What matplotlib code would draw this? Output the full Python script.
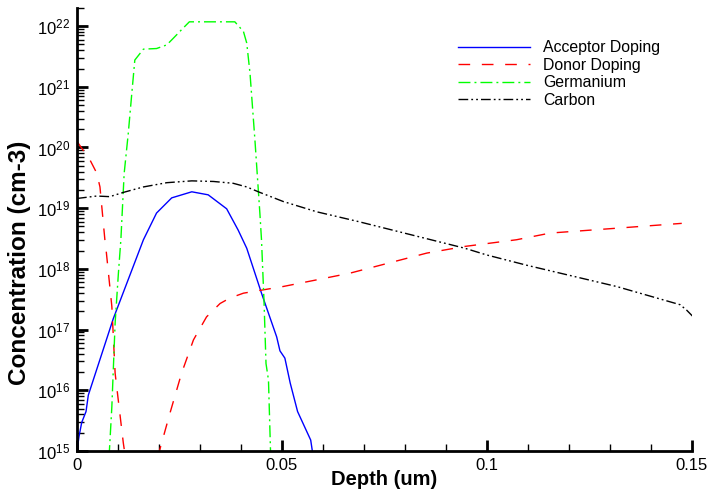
import matplotlib
matplotlib.use("Agg")
import matplotlib.pyplot as plt
import numpy as np
from matplotlib.ticker import FixedLocator, MultipleLocator, NullFormatter, LogFormatterSciNotation

plt.rcParams['font.family'] = ['Liberation Sans', 'DejaVu Sans']

acc_x = [0.0, 0.00049, 0.00115, 0.0022, 0.00276, 0.00885, 0.0162, 0.0194, 0.0231, 0.028, 0.032,
         0.0365, 0.0393, 0.0414, 0.0450, 0.0487, 0.0495, 0.0507, 0.052, 0.0538, 0.0570, 0.0574]
acc_log = [15.0, 15.24, 15.47, 15.65, 15.92, 17.18, 18.48, 18.92, 19.17, 19.27, 19.22,
           18.99, 18.64, 18.34, 17.60, 16.88, 16.65, 16.53, 16.12, 15.65, 15.18, 15.0]

don1_x = [0.0, 0.0032, 0.0048, 0.0056, 0.0068, 0.0071, 0.0085, 0.0093, 0.0113, 0.0118]
don1_log = [20.1, 19.79, 19.58, 19.35, 18.48, 18.31, 17.38, 16.28, 15.13, 14.9]
don2_x = [0.0195, 0.0201, 0.0227, 0.0255, 0.0284, 0.0316, 0.0349, 0.0373, 0.0406, 0.0503, 0.0585,
          0.0666, 0.0853, 0.0946, 0.1072, 0.1154, 0.1316, 0.1475]
don2_log = [14.9, 15.0, 15.63, 16.28, 16.83, 17.21, 17.43, 17.52, 17.60, 17.71, 17.82,
            17.93, 18.26, 18.37, 18.48, 18.59, 18.67, 18.75]

ge_x = [0.0078, 0.0079, 0.0085, 0.0093, 0.0101, 0.0107, 0.0115, 0.0125, 0.0133, 0.0141, 0.0162, 0.0194,
        0.0219, 0.0235, 0.0255, 0.0274, 0.0385, 0.0406, 0.0414, 0.0422, 0.0434, 0.0446, 0.0450,
        0.0456, 0.0461, 0.0467, 0.0472, 0.0473]
ge_log = [14.9, 15.0, 15.73, 17.11, 17.93, 18.48, 19.57, 20.23, 20.84, 21.44, 21.62, 21.63,
          21.69, 21.80, 21.94, 22.07, 22.07, 21.91, 21.72, 21.22, 20.12, 18.92, 18.48,
          17.49, 16.44, 16.17, 15.0, 14.9]

c_x = [0.0, 0.0048, 0.008, 0.0113, 0.0162, 0.0219, 0.028, 0.0333, 0.0381, 0.0414, 0.0446, 0.0503,
       0.0585, 0.0686, 0.0946, 0.0999, 0.1097, 0.1316, 0.1471, 0.1487, 0.1503]
c_log = [19.16, 19.20, 19.19, 19.26, 19.35, 19.42, 19.45, 19.44, 19.41, 19.35, 19.26, 19.11,
         18.94, 18.78, 18.34, 18.23, 18.06, 17.71, 17.41, 17.32, 17.21]

xticks = [0, 0.05, 0.1, 0.15]
xticklabels = ['0', '0.05', '0.1', '0.15']
ydecades = [15, 16, 17, 18, 19, 20, 21, 22]

fig = plt.figure(figsize=(7.11, 4.95), dpi=100)
ax = fig.add_axes([77/711, 1-451/495, 615/711, 443.2/495])

lw = 1.0
ax.plot(acc_x, 10**np.array(acc_log), color='#0000ff', lw=lw, label='Acceptor Doping')
ax.plot(don1_x, 10**np.array(don1_log), color='#ff0000', lw=lw, dashes=(8.4, 8.4), label='Donor Doping')
ax.plot(don2_x, 10**np.array(don2_log), color='#ff0000', lw=lw, dashes=(8.4, 8.4))
ax.plot(ge_x, 10**np.array(ge_log), color='#00ff00', lw=lw, dashes=(8.6, 2.9, 1.4, 2.9), label='Germanium')
ax.plot(c_x, 10**np.array(c_log), color='#000000', lw=lw, dashes=(7, 2.2, 1.3, 2.2, 1.3, 2.2), label='Carbon')

ax.set_yscale('log')
ax.set_xlim(0, 0.15)
ax.set_ylim(1e15, 2e22)

for s in ['top', 'right']:
    ax.spines[s].set_visible(False)
for s in ['left', 'bottom']:
    ax.spines[s].set_linewidth(2)

ax.set_xticks(xticks)
ax.set_xticklabels(xticklabels)
ax.xaxis.set_minor_locator(MultipleLocator(0.01))
ax.yaxis.set_major_locator(FixedLocator([10.0**d for d in ydecades]))
ax.yaxis.set_major_formatter(LogFormatterSciNotation())
minor = [m * 10.0**d for d in ydecades for m in range(2, 10) if m * 10.0**d <= 2e22]
ax.yaxis.set_minor_locator(FixedLocator(minor))
ax.yaxis.set_minor_formatter(NullFormatter())
ax.tick_params(which='major', direction='in', length=8, width=2, labelsize=12, pad=5)
ax.tick_params(which='minor', direction='in', length=5, width=1)

ax.set_xlabel('Depth (um)', fontsize=14.5, fontweight='bold')
ax.xaxis.set_label_coords(0.5, -0.043)
ax.set_ylabel('Concentration (cm-3)', fontsize=17.5, fontweight='bold', va='center')
ax.yaxis.set_label_coords(-0.094, 0.425)

leg = ax.legend(loc='upper left', bbox_to_anchor=(0.62, 0.927), frameon=False, fontsize=11.4,
                handlelength=4.55, handletextpad=0.8, labelspacing=0.16, borderaxespad=0,
                borderpad=0)

fig.savefig('out.png', dpi=100)
